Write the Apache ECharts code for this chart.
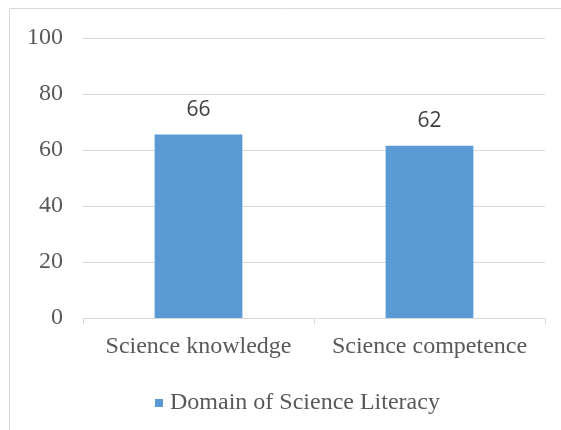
<!DOCTYPE html>
<html>
<head>
<meta charset="utf-8">
<script src="https://cdn.jsdelivr.net/npm/echarts@6/dist/echarts.min.js"></script>
<style>html,body{margin:0;padding:0;background:#fff;}#c{width:561px;height:430px;}</style>
</head>
<body>
<div id="c"></div>
<script>
const categories = ['Science knowledge', 'Science competence'];
const seriesName = 'Domain of Science Literacy';
const values = [65.5, 61.5];
const yTicks = [0, 20, 40, 60, 80, 100];

const SERIF = '"Liberation Serif", "Times New Roman", serif';
const chart = echarts.init(document.getElementById('c'), null, {renderer: 'canvas'});
chart.setOption({
  animation: false,
  backgroundColor: '#ffffff',
  graphic: [{
    type: 'rect',
    shape: {x: 9.5, y: 8.5, width: 700, height: 600},
    style: {fill: 'none', stroke: '#d9d9d9', lineWidth: 1},
    silent: true
  }],
  grid: {left: 83, right: 16, top: 38, bottom: 112, containLabel: false},
  legend: {
    data: [seriesName],
    left: 150, top: 386,
    itemWidth: 8, itemHeight: 8, itemGap: 10,
    icon: 'rect',
    textStyle: {fontFamily: SERIF, fontSize: 24, color: '#595959', padding: [0,0,0,2]}
  },
  xAxis: {
    type: 'category',
    data: categories,
    axisLine: {show: true, lineStyle: {color: '#d9d9d9', width: 1}},
    axisTick: {show: true, length: 6, lineStyle: {color: '#d9d9d9'}},
    axisLabel: {fontFamily: SERIF, fontSize: 24, color: '#595959', margin: 17, interval: 0, hideOverlap: false}
  },
  yAxis: {
    type: 'value',
    min: yTicks[0], max: yTicks[yTicks.length - 1], interval: 20,
    axisLine: {show: false},
    axisTick: {show: false},
    splitLine: {lineStyle: {color: '#d9d9d9', width: 1}},
    axisLabel: {fontFamily: SERIF, fontSize: 24, color: '#595959', margin: 20}
  },
  series: [{
    name: seriesName,
    type: 'bar',
    data: values,
    barWidth: '38%',
    itemStyle: {color: '#5b9bd5'},
    label: {
      show: true, position: 'top', distance: 14,
      formatter: p => Math.round(p.value),
      fontFamily: '"Open Sans", sans-serif', fontSize: 21, color: '#404040'
    }
  }]
});
</script>
</body>
</html>
